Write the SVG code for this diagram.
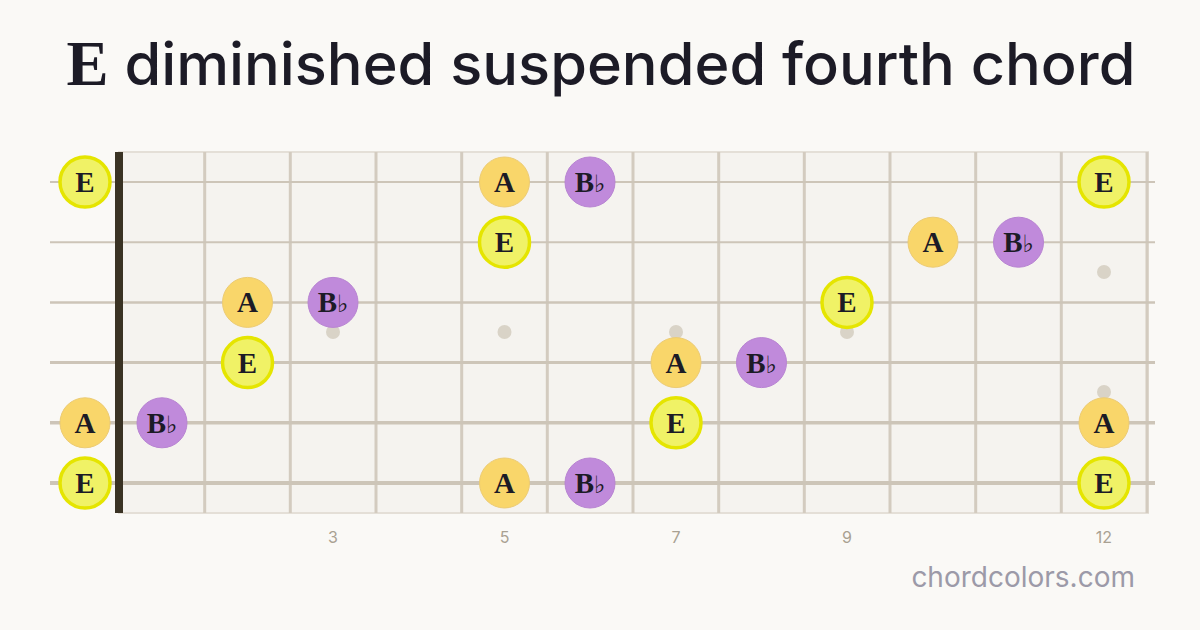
<svg xmlns="http://www.w3.org/2000/svg" width="1200" height="630" viewBox="0 0 1200 630">
<style>
.str{stroke:#cdc5b8;fill:none}
.fret{stroke:#d3cbbf;stroke-width:3}
.dot{fill:#d9d3c7}
.nE{fill:#f0f266;stroke:#e5e500;stroke-width:3.5}
.nA{fill:#f9d66a;stroke:#eccb74;stroke-width:1}
.nB{fill:#c08adb;stroke:#b884d2;stroke-width:1}
.lbl{font-family:"Liberation Serif","DejaVu Serif",serif;font-weight:bold;font-size:29px;fill:#1c1b26;text-anchor:middle}
.flat{font-family:"DejaVu Sans",sans-serif;font-weight:normal;font-size:24px}
.fn{font-family:"Inter","Liberation Sans",sans-serif;font-size:16px;fill:#a9a192;text-anchor:middle}
</style>
<rect width="1200" height="630" fill="#faf9f6"/>
<text x="601" y="85" text-anchor="middle" font-family="Inter,'Open Sans',sans-serif" font-size="59.5" font-weight="500" fill="#1c1b26"><tspan font-family="'Liberation Serif',serif" font-weight="bold" font-size="63">E</tspan> diminished suspended fourth chord</text>
<g id="fretboard">
<rect x="119" y="152" width="1029" height="361" fill="#f5f3ef" stroke="#e4dfd7" stroke-width="2"/>
<g id="frets">
<line class="fret" x1="204.7" y1="152" x2="204.7" y2="513"/>
<line class="fret" x1="290.3" y1="152" x2="290.3" y2="513"/>
<line class="fret" x1="376" y1="152" x2="376" y2="513"/>
<line class="fret" x1="461.7" y1="152" x2="461.7" y2="513"/>
<line class="fret" x1="547.3" y1="152" x2="547.3" y2="513"/>
<line class="fret" x1="633" y1="152" x2="633" y2="513"/>
<line class="fret" x1="718.7" y1="152" x2="718.7" y2="513"/>
<line class="fret" x1="804.3" y1="152" x2="804.3" y2="513"/>
<line class="fret" x1="890" y1="152" x2="890" y2="513"/>
<line class="fret" x1="975.7" y1="152" x2="975.7" y2="513"/>
<line class="fret" x1="1061.3" y1="152" x2="1061.3" y2="513"/>
<line class="fret" x1="1147" y1="152" x2="1147" y2="513"/>
</g>
<g id="markers">
<circle class="dot" cx="333" cy="332" r="7"/>
<circle class="dot" cx="504.5" cy="332" r="7"/>
<circle class="dot" cx="676" cy="332" r="7"/>
<circle class="dot" cx="847" cy="332" r="7"/>
<circle class="dot" cx="1104" cy="272" r="7"/>
<circle class="dot" cx="1104" cy="392" r="7"/>
</g>
<g id="strings">
<line class="str" x1="50" y1="182" x2="1155" y2="182" stroke-width="2"/>
<line class="str" x1="50" y1="242.2" x2="1155" y2="242.2" stroke-width="2"/>
<line class="str" x1="50" y1="302.4" x2="1155" y2="302.4" stroke-width="2.5"/>
<line class="str" x1="50" y1="362.6" x2="1155" y2="362.6" stroke-width="3"/>
<line class="str" x1="50" y1="422.8" x2="1155" y2="422.8" stroke-width="3.5"/>
<line class="str" x1="50" y1="483" x2="1155" y2="483" stroke-width="4"/>
</g>
<rect id="nut" x="115" y="152" width="8" height="361" fill="#3a3324"/>
</g>
<g id="fretnumbers">
<text class="fn" x="333" y="543">3</text>
<text class="fn" x="504.5" y="543">5</text>
<text class="fn" x="676" y="543">7</text>
<text class="fn" x="847" y="543">9</text>
<text class="fn" x="1104" y="543">12</text>
</g>
<g id="notes">
<g id="s1-0"><circle class="nE" cx="85" cy="182" r="25"/><text class="lbl" x="85" y="192">E</text></g>
<g id="s1-5"><circle class="nA" cx="504.5" cy="182" r="25"/><text class="lbl" x="504.5" y="192">A</text></g>
<g id="s1-6"><circle class="nB" cx="590" cy="182" r="25"/><text class="lbl" x="590" y="192">B<tspan class="flat">♭</tspan></text></g>
<g id="s1-12"><circle class="nE" cx="1104" cy="182" r="25"/><text class="lbl" x="1104" y="192">E</text></g>

<g id="s2-5"><circle class="nE" cx="504.5" cy="242.2" r="25"/><text class="lbl" x="504.5" y="252.2">E</text></g>
<g id="s2-10"><circle class="nA" cx="933" cy="242.2" r="25"/><text class="lbl" x="933" y="252.2">A</text></g>
<g id="s2-11"><circle class="nB" cx="1018.5" cy="242.2" r="25"/><text class="lbl" x="1018.5" y="252.2">B<tspan class="flat">♭</tspan></text></g>

<g id="s3-2"><circle class="nA" cx="247.5" cy="302.4" r="25"/><text class="lbl" x="247.5" y="312.4">A</text></g>
<g id="s3-3"><circle class="nB" cx="333" cy="302.4" r="25"/><text class="lbl" x="333" y="312.4">B<tspan class="flat">♭</tspan></text></g>
<g id="s3-9"><circle class="nE" cx="847" cy="302.4" r="25"/><text class="lbl" x="847" y="312.4">E</text></g>

<g id="s4-2"><circle class="nE" cx="247.5" cy="362.6" r="25"/><text class="lbl" x="247.5" y="372.6">E</text></g>
<g id="s4-7"><circle class="nA" cx="676" cy="362.6" r="25"/><text class="lbl" x="676" y="372.6">A</text></g>
<g id="s4-8"><circle class="nB" cx="761.5" cy="362.6" r="25"/><text class="lbl" x="761.5" y="372.6">B<tspan class="flat">♭</tspan></text></g>

<g id="s5-0"><circle class="nA" cx="85" cy="422.8" r="25"/><text class="lbl" x="85" y="432.8">A</text></g>
<g id="s5-1"><circle class="nB" cx="162" cy="422.8" r="25"/><text class="lbl" x="162" y="432.8">B<tspan class="flat">♭</tspan></text></g>
<g id="s5-7"><circle class="nE" cx="676" cy="422.8" r="25"/><text class="lbl" x="676" y="432.8">E</text></g>
<g id="s5-12"><circle class="nA" cx="1104" cy="422.8" r="25"/><text class="lbl" x="1104" y="432.8">A</text></g>

<g id="s6-0"><circle class="nE" cx="85" cy="483" r="25"/><text class="lbl" x="85" y="493">E</text></g>
<g id="s6-5"><circle class="nA" cx="504.5" cy="483" r="25"/><text class="lbl" x="504.5" y="493">A</text></g>
<g id="s6-6"><circle class="nB" cx="590" cy="483" r="25"/><text class="lbl" x="590" y="493">B<tspan class="flat">♭</tspan></text></g>
<g id="s6-12"><circle class="nE" cx="1104" cy="483" r="25"/><text class="lbl" x="1104" y="493">E</text></g>
</g>
<text x="1135" y="587" text-anchor="end" font-family="Inter,'Open Sans',sans-serif" font-size="28" fill="#9c9aa8">chordcolors.com</text>
</svg>
